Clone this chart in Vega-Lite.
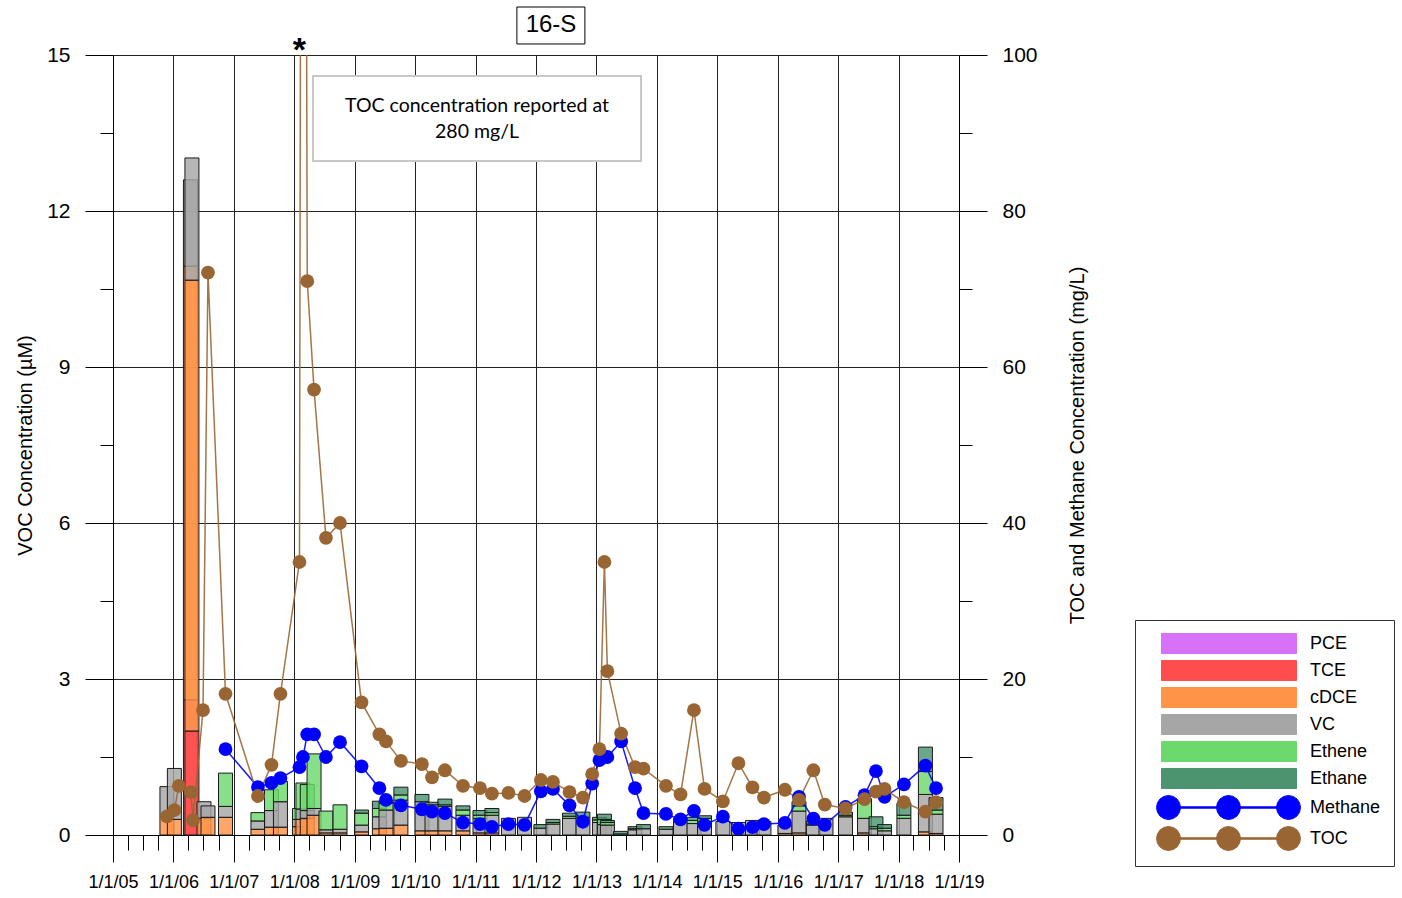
{
  "$schema": "https://vega.github.io/schema/vega-lite/v6.json",
  "width": 846,
  "height": 780,
  "autosize": "none",
  "padding": {"left": 113, "top": 55, "right": 443, "bottom": 63},
  "background": "white",
  "config": {"view": {"stroke": null}, "font": "Liberation Sans"},
  "datasets": {
    "voc": [
      {"d": "2005-11-23", "name": "cDCE", "v": 0.35}, {"d": "2005-11-23", "name": "VC", "v": 0.58},
      {"d": "2006-01-07", "name": "cDCE", "v": 0.3}, {"d": "2006-01-07", "name": "VC", "v": 0.98},
      {"d": "2006-04-14", "name": "TCE", "v": 2.6}, {"d": "2006-04-14", "name": "cDCE", "v": 8.34}, {"d": "2006-04-14", "name": "VC", "v": 1.66},
      {"d": "2006-04-23", "name": "TCE", "v": 2.0}, {"d": "2006-04-23", "name": "cDCE", "v": 8.67}, {"d": "2006-04-23", "name": "VC", "v": 2.35},
      {"d": "2006-07-05", "name": "cDCE", "v": 0.32}, {"d": "2006-07-05", "name": "VC", "v": 0.32},
      {"d": "2006-07-29", "name": "cDCE", "v": 0.34}, {"d": "2006-07-29", "name": "VC", "v": 0.22},
      {"d": "2006-11-12", "name": "cDCE", "v": 0.34}, {"d": "2006-11-12", "name": "VC", "v": 0.21}, {"d": "2006-11-12", "name": "Ethene", "v": 0.64},
      {"d": "2007-05-27", "name": "cDCE", "v": 0.11}, {"d": "2007-05-27", "name": "VC", "v": 0.16}, {"d": "2007-05-27", "name": "Ethene", "v": 0.16},
      {"d": "2007-08-17", "name": "cDCE", "v": 0.15}, {"d": "2007-08-17", "name": "VC", "v": 0.32}, {"d": "2007-08-17", "name": "Ethene", "v": 0.4},
      {"d": "2007-10-10", "name": "cDCE", "v": 0.15}, {"d": "2007-10-10", "name": "VC", "v": 0.49}, {"d": "2007-10-10", "name": "Ethene", "v": 0.39},
      {"d": "2008-02-02", "name": "cDCE", "v": 0.16}, {"d": "2008-02-02", "name": "VC", "v": 0.14}, {"d": "2008-02-02", "name": "Ethene", "v": 0.21},
      {"d": "2008-02-23", "name": "cDCE", "v": 0.3}, {"d": "2008-02-23", "name": "VC", "v": 0.2}, {"d": "2008-02-23", "name": "Ethene", "v": 0.5},
      {"d": "2008-03-20", "name": "cDCE", "v": 0.32}, {"d": "2008-03-20", "name": "VC", "v": 0.15}, {"d": "2008-03-20", "name": "Ethene", "v": 0.5},
      {"d": "2008-04-30", "name": "cDCE", "v": 0.38}, {"d": "2008-04-30", "name": "VC", "v": 0.13}, {"d": "2008-04-30", "name": "Ethene", "v": 1.05},
      {"d": "2008-07-11", "name": "cDCE", "v": 0.04}, {"d": "2008-07-11", "name": "VC", "v": 0.06}, {"d": "2008-07-11", "name": "Ethene", "v": 0.36},
      {"d": "2008-10-04", "name": "cDCE", "v": 0.04}, {"d": "2008-10-04", "name": "VC", "v": 0.07}, {"d": "2008-10-04", "name": "Ethene", "v": 0.47},
      {"d": "2009-02-11", "name": "cDCE", "v": 0.06}, {"d": "2009-02-11", "name": "VC", "v": 0.13}, {"d": "2009-02-11", "name": "Ethene", "v": 0.23}, {"d": "2009-02-11", "name": "Ethane", "v": 0.06},
      {"d": "2009-05-30", "name": "cDCE", "v": 0.12}, {"d": "2009-05-30", "name": "VC", "v": 0.23}, {"d": "2009-05-30", "name": "Ethene", "v": 0.16}, {"d": "2009-05-30", "name": "Ethane", "v": 0.14},
      {"d": "2009-07-09", "name": "cDCE", "v": 0.13}, {"d": "2009-07-09", "name": "VC", "v": 0.35}, {"d": "2009-07-09", "name": "Ethene", "v": 0.13}, {"d": "2009-07-09", "name": "Ethane", "v": 0.05},
      {"d": "2009-10-07", "name": "cDCE", "v": 0.19}, {"d": "2009-10-07", "name": "VC", "v": 0.48}, {"d": "2009-10-07", "name": "Ethene", "v": 0.1}, {"d": "2009-10-07", "name": "Ethane", "v": 0.15},
      {"d": "2010-02-11", "name": "cDCE", "v": 0.08}, {"d": "2010-02-11", "name": "VC", "v": 0.56}, {"d": "2010-02-11", "name": "Ethane", "v": 0.14},
      {"d": "2010-04-13", "name": "cDCE", "v": 0.08}, {"d": "2010-04-13", "name": "VC", "v": 0.5}, {"d": "2010-04-13", "name": "Ethane", "v": 0.05},
      {"d": "2010-06-30", "name": "cDCE", "v": 0.08}, {"d": "2010-06-30", "name": "VC", "v": 0.47}, {"d": "2010-06-30", "name": "Ethene", "v": 0.03}, {"d": "2010-06-30", "name": "Ethane", "v": 0.11},
      {"d": "2010-10-17", "name": "cDCE", "v": 0.08}, {"d": "2010-10-17", "name": "VC", "v": 0.3}, {"d": "2010-10-17", "name": "Ethene", "v": 0.1}, {"d": "2010-10-17", "name": "Ethane", "v": 0.08},
      {"d": "2011-01-28", "name": "cDCE", "v": 0.04}, {"d": "2011-01-28", "name": "VC", "v": 0.28}, {"d": "2011-01-28", "name": "Ethene", "v": 0.06}, {"d": "2011-01-28", "name": "Ethane", "v": 0.09},
      {"d": "2011-04-10", "name": "cDCE", "v": 0.04}, {"d": "2011-04-10", "name": "VC", "v": 0.34}, {"d": "2011-04-10", "name": "Ethene", "v": 0.05}, {"d": "2011-04-10", "name": "Ethane", "v": 0.08},
      {"d": "2011-07-19", "name": "VC", "v": 0.32},
      {"d": "2011-10-24", "name": "VC", "v": 0.34},
      {"d": "2012-01-31", "name": "VC", "v": 0.13}, {"d": "2012-01-31", "name": "Ethane", "v": 0.07},
      {"d": "2012-04-13", "name": "VC", "v": 0.21}, {"d": "2012-04-13", "name": "Ethene", "v": 0.03}, {"d": "2012-04-13", "name": "Ethane", "v": 0.06},
      {"d": "2012-07-22", "name": "VC", "v": 0.32}, {"d": "2012-07-22", "name": "Ethene", "v": 0.04}, {"d": "2012-07-22", "name": "Ethane", "v": 0.06},
      {"d": "2012-10-11", "name": "VC", "v": 0.34}, {"d": "2012-10-11", "name": "Ethane", "v": 0.1},
      {"d": "2013-01-19", "name": "VC", "v": 0.24}, {"d": "2013-01-19", "name": "Ethene", "v": 0.05}, {"d": "2013-01-19", "name": "Ethane", "v": 0.05},
      {"d": "2013-02-18", "name": "VC", "v": 0.2}, {"d": "2013-02-18", "name": "Ethene", "v": 0.1}, {"d": "2013-02-18", "name": "Ethane", "v": 0.1},
      {"d": "2013-03-08", "name": "VC", "v": 0.19}, {"d": "2013-03-08", "name": "Ethene", "v": 0.05}, {"d": "2013-03-08", "name": "Ethane", "v": 0.04},
      {"d": "2013-05-26", "name": "VC", "v": 0.02}, {"d": "2013-05-26", "name": "Ethane", "v": 0.05},
      {"d": "2013-08-22", "name": "VC", "v": 0.1}, {"d": "2013-08-22", "name": "Ethene", "v": 0.02}, {"d": "2013-08-22", "name": "Ethane", "v": 0.04},
      {"d": "2013-10-12", "name": "VC", "v": 0.12}, {"d": "2013-10-12", "name": "Ethane", "v": 0.08},
      {"d": "2014-02-25", "name": "VC", "v": 0.11}, {"d": "2014-02-25", "name": "Ethane", "v": 0.05},
      {"d": "2014-05-24", "name": "VC", "v": 0.25}, {"d": "2014-05-24", "name": "Ethene", "v": 0.03}, {"d": "2014-05-24", "name": "Ethane", "v": 0.04},
      {"d": "2014-08-13", "name": "VC", "v": 0.22}, {"d": "2014-08-13", "name": "Ethene", "v": 0.06}, {"d": "2014-08-13", "name": "Ethane", "v": 0.06},
      {"d": "2014-10-16", "name": "VC", "v": 0.26}, {"d": "2014-10-16", "name": "Ethene", "v": 0.06}, {"d": "2014-10-16", "name": "Ethane", "v": 0.05},
      {"d": "2015-02-04", "name": "VC", "v": 0.26},
      {"d": "2015-05-09", "name": "VC", "v": 0.24},
      {"d": "2015-08-02", "name": "VC", "v": 0.28},
      {"d": "2015-10-10", "name": "VC", "v": 0.26},
      {"d": "2016-02-14", "name": "cDCE", "v": 0.03}, {"d": "2016-02-14", "name": "VC", "v": 0.16},
      {"d": "2016-05-09", "name": "cDCE", "v": 0.04}, {"d": "2016-05-09", "name": "VC", "v": 0.42}, {"d": "2016-05-09", "name": "Ethene", "v": 0.1}, {"d": "2016-05-09", "name": "Ethane", "v": 0.08},
      {"d": "2016-08-04", "name": "VC", "v": 0.19}, {"d": "2016-08-04", "name": "Ethene", "v": 0.02}, {"d": "2016-08-04", "name": "Ethane", "v": 0.06},
      {"d": "2016-10-19", "name": "VC", "v": 0.32},
      {"d": "2017-02-14", "name": "VC", "v": 0.35}, {"d": "2017-02-14", "name": "Ethene", "v": 0.03}, {"d": "2017-02-14", "name": "Ethane", "v": 0.06},
      {"d": "2017-06-09", "name": "cDCE", "v": 0.04}, {"d": "2017-06-09", "name": "VC", "v": 0.28}, {"d": "2017-06-09", "name": "Ethene", "v": 0.38},
      {"d": "2017-08-17", "name": "VC", "v": 0.12}, {"d": "2017-08-17", "name": "Ethene", "v": 0.04}, {"d": "2017-08-17", "name": "Ethane", "v": 0.19},
      {"d": "2017-10-08", "name": "VC", "v": 0.08}, {"d": "2017-10-08", "name": "Ethene", "v": 0.05}, {"d": "2017-10-08", "name": "Ethane", "v": 0.07},
      {"d": "2018-02-02", "name": "VC", "v": 0.32}, {"d": "2018-02-02", "name": "Ethene", "v": 0.06}, {"d": "2018-02-02", "name": "Ethane", "v": 0.23},
      {"d": "2018-06-12", "name": "cDCE", "v": 0.06}, {"d": "2018-06-12", "name": "VC", "v": 0.72}, {"d": "2018-06-12", "name": "Ethene", "v": 0.44}, {"d": "2018-06-12", "name": "Ethane", "v": 0.47},
      {"d": "2018-08-15", "name": "cDCE", "v": 0.03}, {"d": "2018-08-15", "name": "VC", "v": 0.37}, {"d": "2018-08-15", "name": "Ethene", "v": 0.08}, {"d": "2018-08-15", "name": "Ethane", "v": 0.24}
    ],
    "compounds": [
      {"name": "PCE", "ord": 1}, {"name": "TCE", "ord": 2}, {"name": "cDCE", "ord": 3},
      {"name": "VC", "ord": 4}, {"name": "Ethene", "ord": 5}, {"name": "Ethane", "ord": 6}
    ],
    "gas": [
      {"d": "2006-11-12", "name": "Methane", "v": 11.0}, {"d": "2007-05-27", "name": "Methane", "v": 6.15},
      {"d": "2007-08-17", "name": "Methane", "v": 6.67}, {"d": "2007-10-10", "name": "Methane", "v": 7.3},
      {"d": "2008-02-02", "name": "Methane", "v": 8.7}, {"d": "2008-02-23", "name": "Methane", "v": 10.0},
      {"d": "2008-03-20", "name": "Methane", "v": 12.9}, {"d": "2008-04-30", "name": "Methane", "v": 12.9},
      {"d": "2008-07-11", "name": "Methane", "v": 10.0}, {"d": "2008-10-04", "name": "Methane", "v": 11.9},
      {"d": "2009-02-11", "name": "Methane", "v": 8.8}, {"d": "2009-05-30", "name": "Methane", "v": 6.0},
      {"d": "2009-07-09", "name": "Methane", "v": 4.5}, {"d": "2009-10-07", "name": "Methane", "v": 3.8},
      {"d": "2010-02-11", "name": "Methane", "v": 3.3}, {"d": "2010-04-13", "name": "Methane", "v": 3.0},
      {"d": "2010-06-30", "name": "Methane", "v": 2.8}, {"d": "2010-10-17", "name": "Methane", "v": 1.6},
      {"d": "2011-01-28", "name": "Methane", "v": 1.4}, {"d": "2011-04-10", "name": "Methane", "v": 1.05},
      {"d": "2011-07-19", "name": "Methane", "v": 1.4}, {"d": "2011-10-24", "name": "Methane", "v": 1.3},
      {"d": "2012-01-31", "name": "Methane", "v": 5.6}, {"d": "2012-04-13", "name": "Methane", "v": 5.9},
      {"d": "2012-07-22", "name": "Methane", "v": 3.8}, {"d": "2012-10-11", "name": "Methane", "v": 1.7},
      {"d": "2012-12-06", "name": "Methane", "v": 6.6}, {"d": "2013-01-19", "name": "Methane", "v": 9.6},
      {"d": "2013-03-08", "name": "Methane", "v": 10.0}, {"d": "2013-05-30", "name": "Methane", "v": 12.0},
      {"d": "2013-08-22", "name": "Methane", "v": 6.0}, {"d": "2013-10-12", "name": "Methane", "v": 2.8},
      {"d": "2014-02-25", "name": "Methane", "v": 2.7}, {"d": "2014-05-24", "name": "Methane", "v": 2.0},
      {"d": "2014-08-13", "name": "Methane", "v": 3.1}, {"d": "2014-10-16", "name": "Methane", "v": 1.3},
      {"d": "2015-02-04", "name": "Methane", "v": 2.35}, {"d": "2015-05-09", "name": "Methane", "v": 0.8},
      {"d": "2015-08-02", "name": "Methane", "v": 1.0}, {"d": "2015-10-10", "name": "Methane", "v": 1.4},
      {"d": "2016-02-14", "name": "Methane", "v": 1.55}, {"d": "2016-05-09", "name": "Methane", "v": 4.9},
      {"d": "2016-08-04", "name": "Methane", "v": 2.1}, {"d": "2016-10-12", "name": "Methane", "v": 1.3},
      {"d": "2017-02-14", "name": "Methane", "v": 3.6}, {"d": "2017-06-09", "name": "Methane", "v": 5.1},
      {"d": "2017-08-17", "name": "Methane", "v": 8.2}, {"d": "2017-10-08", "name": "Methane", "v": 4.9},
      {"d": "2018-02-02", "name": "Methane", "v": 6.5}, {"d": "2018-06-12", "name": "Methane", "v": 8.9},
      {"d": "2018-08-15", "name": "Methane", "v": 6.0},
      {"d": "2005-11-23", "name": "TOC", "v": 2.4}, {"d": "2006-01-07", "name": "TOC", "v": 3.2},
      {"d": "2006-02-03", "name": "TOC", "v": 6.3}, {"d": "2006-04-17", "name": "TOC", "v": 5.5},
      {"d": "2006-04-29", "name": "TOC", "v": 1.9}, {"d": "2006-06-29", "name": "TOC", "v": 16.0},
      {"d": "2006-07-29", "name": "TOC", "v": 72.1}, {"d": "2006-11-12", "name": "TOC", "v": 18.1},
      {"d": "2007-05-27", "name": "TOC", "v": 5.0}, {"d": "2007-08-17", "name": "TOC", "v": 9.0},
      {"d": "2007-10-10", "name": "TOC", "v": 18.1}, {"d": "2008-02-02", "name": "TOC", "v": 35.0},
      {"d": "2008-02-23", "name": "TOC", "v": 280}, {"d": "2008-03-20", "name": "TOC", "v": 71.0},
      {"d": "2008-04-30", "name": "TOC", "v": 57.1}, {"d": "2008-07-11", "name": "TOC", "v": 38.1},
      {"d": "2008-10-04", "name": "TOC", "v": 40.0}, {"d": "2009-02-11", "name": "TOC", "v": 17.0},
      {"d": "2009-05-30", "name": "TOC", "v": 12.9}, {"d": "2009-07-09", "name": "TOC", "v": 12.0},
      {"d": "2009-10-07", "name": "TOC", "v": 9.5}, {"d": "2010-02-11", "name": "TOC", "v": 9.1},
      {"d": "2010-04-13", "name": "TOC", "v": 7.4}, {"d": "2010-06-30", "name": "TOC", "v": 8.3},
      {"d": "2010-10-17", "name": "TOC", "v": 6.3}, {"d": "2011-01-28", "name": "TOC", "v": 6.0},
      {"d": "2011-04-10", "name": "TOC", "v": 5.3}, {"d": "2011-07-19", "name": "TOC", "v": 5.4},
      {"d": "2011-10-24", "name": "TOC", "v": 5.0}, {"d": "2012-01-31", "name": "TOC", "v": 7.05},
      {"d": "2012-04-13", "name": "TOC", "v": 6.8}, {"d": "2012-07-22", "name": "TOC", "v": 5.5},
      {"d": "2012-10-11", "name": "TOC", "v": 4.8}, {"d": "2012-12-06", "name": "TOC", "v": 7.8},
      {"d": "2013-01-19", "name": "TOC", "v": 11.0}, {"d": "2013-02-18", "name": "TOC", "v": 35.0},
      {"d": "2013-03-08", "name": "TOC", "v": 21.0}, {"d": "2013-05-30", "name": "TOC", "v": 13.0},
      {"d": "2013-08-22", "name": "TOC", "v": 8.7}, {"d": "2013-10-12", "name": "TOC", "v": 8.5},
      {"d": "2014-02-25", "name": "TOC", "v": 6.3}, {"d": "2014-05-24", "name": "TOC", "v": 5.2},
      {"d": "2014-08-13", "name": "TOC", "v": 16.0}, {"d": "2014-10-16", "name": "TOC", "v": 5.9},
      {"d": "2015-02-04", "name": "TOC", "v": 4.3}, {"d": "2015-05-09", "name": "TOC", "v": 9.2},
      {"d": "2015-08-02", "name": "TOC", "v": 6.1}, {"d": "2015-10-10", "name": "TOC", "v": 4.8},
      {"d": "2016-02-14", "name": "TOC", "v": 5.8}, {"d": "2016-05-09", "name": "TOC", "v": 4.5},
      {"d": "2016-08-04", "name": "TOC", "v": 8.3}, {"d": "2016-10-12", "name": "TOC", "v": 3.9},
      {"d": "2017-02-14", "name": "TOC", "v": 3.4}, {"d": "2017-06-09", "name": "TOC", "v": 4.6},
      {"d": "2017-08-17", "name": "TOC", "v": 5.55}, {"d": "2017-10-08", "name": "TOC", "v": 5.9},
      {"d": "2018-02-02", "name": "TOC", "v": 4.2}, {"d": "2018-06-12", "name": "TOC", "v": 3.0},
      {"d": "2018-08-15", "name": "TOC", "v": 4.2}
    ]
  },
  "layer": [
    {
      "layer": [
        {
          "data": {"name": "voc"},
          "transform": [
            {"lookup": "name", "from": {"data": {"name": "compounds"}, "key": "name", "fields": ["ord"]}}
          ],
          "mark": {"type": "bar", "width": 14, "stroke": "#1a1a1a", "strokeWidth": 1, "fillOpacity": 0.82},
          "encoding": {
            "x": {
              "field": "d", "type": "temporal",
              "scale": {"type": "utc", "padding": 0, "domain": [{"year": 2005, "month": 1, "date": 1, "utc": true}, {"year": 2019, "month": 1, "date": 1, "utc": true}]},
              "axis": {
                "title": null,
                "tickCount": {"interval": "month", "step": 3},
                "labelExpr": "utcmonth(datum.value) == 0 ? utcFormat(datum.value, '%-m/%-d/%y') : ''",
                "labelFont": "Liberation Sans",
                "labelFontSize": 18,
                "labelColor": "black",
                "labelPadding": 11,
                "labelOverlap": false,
                "labelFlush": false,
                "labelBound": false,
                "tickSize": {"condition": {"test": "utcmonth(datum.value) == 0", "value": 27}, "value": 15},
                "tickColor": "black",
                "domainColor": "black",
                "grid": true,
                "gridColor": "#222222",
                "gridOpacity": {"condition": {"test": "utcmonth(datum.value) == 0", "value": 1}, "value": 0}
              }
            },
            "y": {
              "field": "v", "type": "quantitative", "stack": "zero",
              "scale": {"domain": [0, 15], "nice": false},
              "axis": {
                "title": "VOC Concentration (µM)",
                "titleFont": "Liberation Sans", "titleFontSize": 20, "titleFontWeight": "normal", "titleColor": "black",
                "titlePadding": 11,
                "values": [0, 1.5, 3, 4.5, 6, 7.5, 9, 10.5, 12, 13.5, 15],
                "labelExpr": "datum.value % 3 == 0 ? datum.label : ''",
                "labelFont": "Liberation Sans", "labelFontSize": 21, "labelColor": "black",
                "labelPadding": 15,
                "tickSize": {"condition": {"test": "datum.value % 3 == 0", "value": 28}, "value": 13},
                "tickColor": "black",
                "domainColor": "black",
                "grid": true,
                "gridColor": "#222222",
                "gridOpacity": {"condition": {"test": "datum.value % 3 == 0", "value": 1}, "value": 0}
              }
            },
            "color": {
              "field": "name", "type": "nominal",
              "scale": {
                "domain": ["PCE", "TCE", "cDCE", "VC", "Ethene", "Ethane", "Methane", "TOC"],
                "range": ["#d771f7", "#ff4d4d", "#ff9448", "#a6a6a6", "#6dd96d", "#4b946f", "#0000ff", "#996633"]
              },
              "legend": {
                "orient": "none", "legendX": 1022, "legendY": 565, "title": null,
                "direction": "vertical",
                "padding": 13, "strokeColor": "#333333", "fillColor": "white",
                "symbolSize": 400, "rowPadding": 2, "labelOffset": 141,
                "labelFont": "Liberation Sans", "labelFontSize": 18, "labelColor": "black", "labelLimit": 0,
                "symbolStrokeWidth": 1, "symbolStrokeColor": "#333333", "symbolOpacity": 1,
                "encode": {
                  "symbols": {
                    "update": {
                      "shape": {"signal": "datum.value == 'Methane' || datum.value == 'TOC' ? 'M2.2,0l-0.091,0.459l-0.26,0.39l-0.39,0.26l-0.459,0.091l-0.459,-0.091l-0.39,-0.26l-0.26,-0.39l-0.091,-0.459l0.091,-0.459l0.26,-0.39l0.39,-0.26l0.459,-0.091l0.459,0.091l0.39,0.26l0.26,0.39zM8.2,0l-0.091,0.459l-0.26,0.39l-0.39,0.26l-0.459,0.091l-0.459,-0.091l-0.39,-0.26l-0.26,-0.39l-0.091,-0.459l0.091,-0.459l0.26,-0.39l0.39,-0.26l0.459,-0.091l0.459,0.091l0.39,0.26l0.26,0.39zM14.2,0l-0.091,0.459l-0.26,0.39l-0.39,0.26l-0.459,0.091l-0.459,-0.091l-0.39,-0.26l-0.26,-0.39l-0.091,-0.459l0.091,-0.459l0.26,-0.39l0.39,-0.26l0.459,-0.091l0.459,0.091l0.39,0.26l0.26,0.39zM2.2,-0.07h3.6v0.14h-3.6zM8.2,-0.07h3.6v0.14h-3.6z' : 'M0.3,-1h13.5v2h-13.5z'"},
                      "fill": {"scale": "color", "field": "value"},
                      "stroke": {"signal": "datum.value == 'Methane' || datum.value == 'TOC' ? 'transparent' : '#333333'"},
                      "fillOpacity": {"value": 1},
                      "opacity": {"value": 1}
                    }
                  }
                }
              }
            },
            "order": {"field": "ord", "type": "quantitative"}
          }
        },
        {
          "data": {"values": [{}]},
          "mark": {"type": "rect", "fill": "white", "stroke": "#c8c8c8", "strokeWidth": 2},
          "encoding": {
            "x": {"datum": {"year": 2008, "month": 4, "date": 24, "utc": true}, "type": "temporal"},
            "x2": {"datum": {"year": 2013, "month": 9, "date": 27, "utc": true}},
            "y": {"datum": 14.596, "type": "quantitative"},
            "y2": {"datum": 12.96}
          }
        },
        {
          "data": {"values": [{}]},
          "mark": {"type": "text", "text": ["TOC concentration reported at", "280 mg/L"], "font": "Lato", "fontSize": 19.5, "lineHeight": 26, "align": "center", "baseline": "middle", "color": "black"},
          "encoding": {
            "x": {"datum": {"year": 2011, "month": 1, "date": 10, "utc": true}, "type": "temporal"},
            "y": {"datum": 14.02, "type": "quantitative"}
          }
        },
        {
          "data": {"values": [{}]},
          "mark": {"type": "rect", "fill": "white", "stroke": "black", "strokeWidth": 1},
          "encoding": {
            "x": {"datum": {"year": 2011, "month": 9, "date": 8, "utc": true}, "type": "temporal"},
            "x2": {"datum": {"year": 2012, "month": 10, "date": 23, "utc": true}},
            "y": {"datum": 15.923, "type": "quantitative"},
            "y2": {"datum": 15.212}
          }
        },
        {
          "data": {"values": [{}]},
          "mark": {"type": "text", "text": "16-S", "font": "Liberation Sans", "fontSize": 24, "align": "center", "baseline": "middle", "color": "black"},
          "encoding": {
            "x": {"datum": {"year": 2012, "month": 4, "date": 1, "utc": true}, "type": "temporal"},
            "y": {"datum": 15.577, "type": "quantitative"}
          }
        },
        {
          "data": {"values": [{}]},
          "mark": {"type": "text", "text": "*", "font": "Liberation Sans", "fontSize": 34, "fontWeight": "bold", "align": "center", "baseline": "middle", "color": "black"},
          "encoding": {
            "x": {"datum": {"year": 2008, "month": 2, "date": 1, "utc": true}, "type": "temporal"},
            "y": {"datum": 15.08, "type": "quantitative"}
          }
        }
      ]
    },
    {
      "data": {"name": "gas"},
      "encoding": {
        "x": {"field": "d", "type": "temporal"},
        "y": {
          "field": "v", "type": "quantitative",
          "scale": {"domain": [0, 100], "nice": false},
          "axis": {
            "orient": "right",
            "title": "TOC and Methane Concentration (mg/L)",
            "titleFont": "Liberation Sans", "titleFontSize": 20, "titleFontWeight": "normal", "titleColor": "black",
            "titleAngle": 270, "titleBaseline": "top", "titlePadding": 30,
            "values": [0, 10, 20, 30, 40, 50, 60, 70, 80, 90, 100],
            "labelExpr": "datum.value % 20 == 0 ? datum.label : ''",
            "labelFont": "Liberation Sans", "labelFontSize": 21, "labelColor": "black",
            "labelPadding": 15,
            "tickSize": {"condition": {"test": "datum.value % 20 == 0", "value": 28}, "value": 13},
            "tickColor": "black",
            "domainColor": "black",
            "grid": false
          }
        },
        "color": {"field": "name", "type": "nominal"}
      },
      "layer": [
        {"mark": {"type": "line", "clip": true, "strokeWidth": 1.5, "opacity": 0.9}},
        {"mark": {"type": "point", "filled": true, "shape": "circle", "size": 190, "opacity": 1, "clip": true}}
      ]
    }
  ],
  "resolve": {"scale": {"y": "independent"}}
}
